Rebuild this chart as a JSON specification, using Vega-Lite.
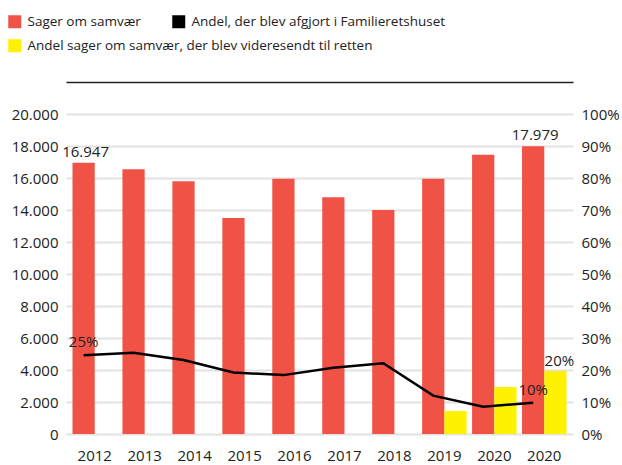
{
  "$schema": "https://vega.github.io/schema/vega-lite/v6.json",
  "width": 507,
  "height": 320,
  "autosize": {"type": "none"},
  "padding": {"left": 66, "top": 114, "right": 49, "bottom": 31},
  "background": "white",
  "config": {
    "font": "Open Sans",
    "locale": {"number": {"decimal": ",", "thousands": ".", "grouping": [3], "currency": ["", " kr."]}},
    "view": {"stroke": null},
    "axis": {"labelFont": "Open Sans", "labelFontSize": 15, "labelColor": "#222222", "domain": false, "ticks": false, "title": null},
    "legend": {"labelFont": "Open Sans", "labelFontSize": 13.5, "labelColor": "#222222", "padding": 0, "labelLimit": 0}
  },
  "data": {
    "values": [
      {"cat": "2012", "sager": 16947, "afgjort": 0.246, "videresendt": null},
      {"cat": "2013", "sager": 16550, "afgjort": 0.254, "videresendt": null},
      {"cat": "2014", "sager": 15800, "afgjort": 0.231, "videresendt": null},
      {"cat": "2015", "sager": 13500, "afgjort": 0.192, "videresendt": null},
      {"cat": "2016", "sager": 15950, "afgjort": 0.184, "videresendt": null},
      {"cat": "2017", "sager": 14800, "afgjort": 0.207, "videresendt": null},
      {"cat": "2018", "sager": 14000, "afgjort": 0.221, "videresendt": null},
      {"cat": "2019", "sager": 15950, "afgjort": 0.120, "videresendt": 0.072},
      {"cat": "2020", "sager": 17450, "afgjort": 0.085, "videresendt": 0.147},
      {"cat": "2020b", "sager": 17979, "afgjort": 0.098, "videresendt": 0.197}
    ]
  },
  "resolve": {"scale": {"y": "independent"}, "axis": {"x": "independent"}},
  "layer": [
    {
      "encoding": {
        "x": {"field": "cat", "type": "nominal", "sort": null,
              "scale": {"paddingInner": 0.11, "paddingOuter": 0.13},
              "axis": {"orient": "bottom", "labelAngle": 0, "labelPadding": 14, "labelExpr": "slice(datum.label, 0, 4)"}},
        "y": {"field": "sager", "type": "quantitative",
              "scale": {"domain": [0, 20000]},
              "axis": {"orient": "left", "values": [0,2000,4000,6000,8000,10000,12000,14000,16000,18000,20000],
                       "grid": true, "gridColor": "#e2e2e2", "gridWidth": 2, "labelPadding": 8, "format": ",.0f"}}
      },
      "layer": [
        {
          "mark": {"type": "bar"},
          "encoding": {
            "xOffset": {"datum": "a", "scale": {"domain": ["a", "b"], "paddingInner": 0, "paddingOuter": 0}},
            "color": {"datum": "Sager om samvær",
                      "scale": {"domain": ["Sager om samvær", "Andel sager om samvær, der blev videresendt til retten"], "range": ["#f05246", "#fff200"]},
                      "legend": {"orient": "none", "legendX": -58, "legendY": -99, "title": null, "symbolType": "square", "symbolSize": 169, "rowPadding": 9, "labelOffset": 6, "symbolStrokeWidth": 0}}
          }
        },
        {
          "transform": [{"filter": "datum.cat == '2012' || datum.cat == '2020b'"}],
          "mark": {"type": "text", "baseline": "bottom", "dy": -3, "dx": 2, "fontSize": 15, "color": "#222222"},
          "encoding": {
            "x": {"field": "cat", "type": "nominal", "sort": null, "bandPosition": 0.25},
            "text": {"field": "sager", "type": "quantitative", "format": ",.0f"}
          }
        }
      ]
    },
    {
      "encoding": {
        "x": {"field": "cat", "type": "nominal", "sort": null,
              "axis": {"orient": "top", "labels": false, "domain": true, "domainColor": "#222222", "domainWidth": 1.5, "offset": 32}},
        "y": {"type": "quantitative", "scale": {"domain": [0, 1]},
              "axis": {"orient": "right", "values": [0,0.1,0.2,0.3,0.4,0.5,0.6,0.7,0.8,0.9,1], "grid": false, "labelPadding": 8, "format": ".0%"}}
      },
      "layer": [
        {
          "mark": {"type": "bar"},
          "encoding": {
            "y": {"field": "videresendt", "type": "quantitative"},
            "xOffset": {"datum": "b"},
            "color": {"datum": "Andel sager om samvær, der blev videresendt til retten"}
          }
        },
        {
          "mark": {"type": "line", "strokeWidth": 2.5},
          "encoding": {
            "x": {"field": "cat", "type": "nominal", "sort": null, "bandPosition": 0.25},
            "y": {"field": "afgjort", "type": "quantitative"},
            "stroke": {"datum": "Andel, der blev afgjort i Familieretshuset",
                       "scale": {"range": ["#000000"]},
                       "legend": {"orient": "none", "legendX": 106, "legendY": -99, "title": null, "symbolType": "square", "symbolSize": 169, "labelOffset": 6,
                                  "encode": {"symbols": {"update": {"fill": {"value": "#000000"}, "strokeWidth": {"value": 0}}}}}}
          }
        },
        {
          "transform": [{"filter": "datum.cat == '2012' || datum.cat == '2020b'"}],
          "mark": {"type": "text", "baseline": "bottom", "dy": -5, "fontSize": 15, "color": "#222222"},
          "encoding": {
            "x": {"field": "cat", "type": "nominal", "sort": null, "bandPosition": 0.25},
            "y": {"field": "afgjort", "type": "quantitative"},
            "text": {"field": "afgjort", "type": "quantitative", "format": ".0%"}
          }
        },
        {
          "transform": [{"filter": "datum.cat == '2020b'"}],
          "mark": {"type": "text", "baseline": "bottom", "dy": -2, "dx": 4, "fontSize": 15, "color": "#222222"},
          "encoding": {
            "x": {"field": "cat", "type": "nominal", "sort": null, "bandPosition": 0.75},
            "y": {"field": "videresendt", "type": "quantitative"},
            "text": {"field": "videresendt", "type": "quantitative", "format": ".0%"}
          }
        }
      ]
    }
  ]
}
